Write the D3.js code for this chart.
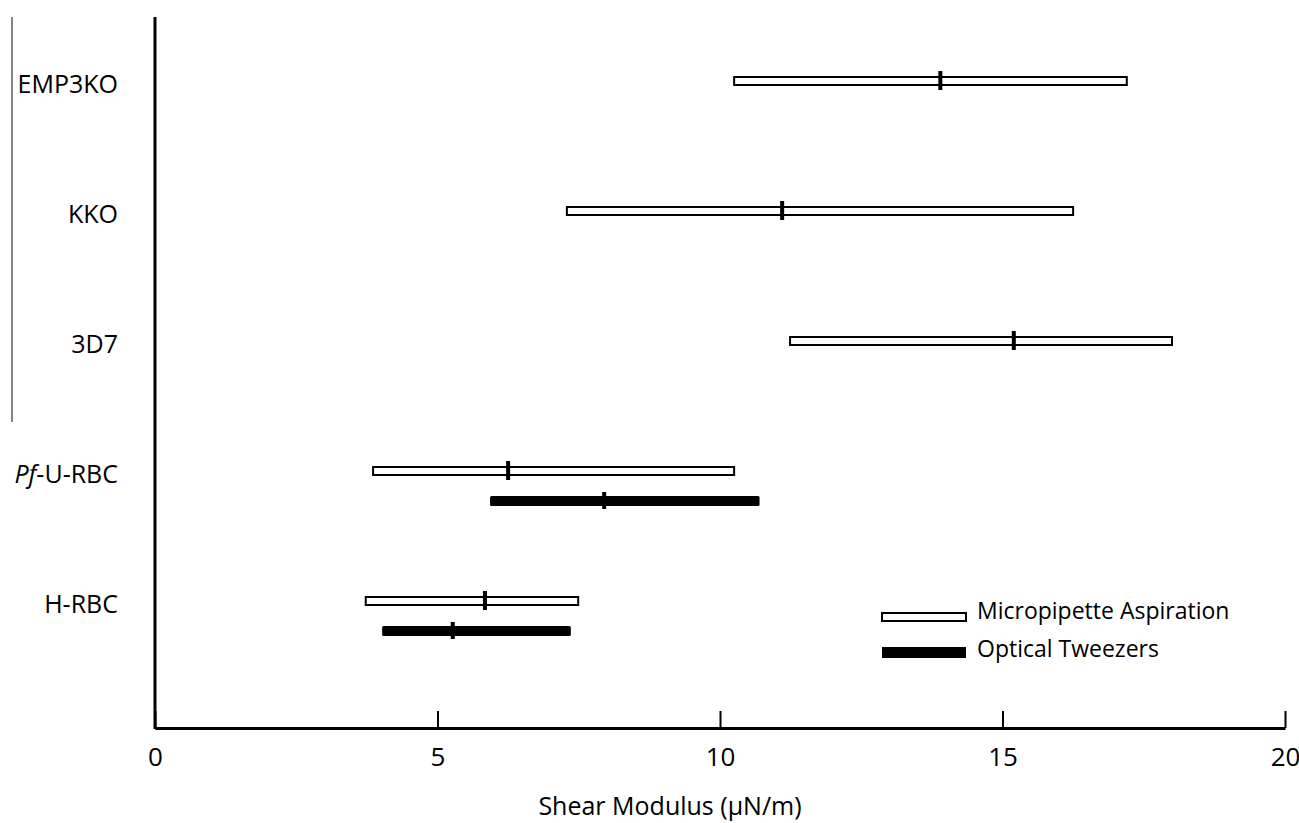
<!DOCTYPE html>
<html>
<head>
<meta charset="utf-8">
<script src="https://cdn.jsdelivr.net/npm/d3@7"></script>
<style>
  body { margin: 0; background: #fff; }
  svg text { font-family: "Open Sans", sans-serif; fill: #000; }
</style>
</head>
<body>
<svg id="chart" width="1299" height="823"></svg>
<script>
// data
const categories = ["EMP3KO", "KKO", "3D7", "Pf-U-RBC", "H-RBC"];
const maLow  = [10.25, 7.29, 11.24, 3.86, 3.73];
const maHigh = [17.2, 16.25, 18.0, 10.25, 7.49];
const maMean = [13.9, 11.1, 15.2, 6.25, 5.84];
const otCats = ["Pf-U-RBC", "H-RBC"];
const otLow  = [5.93, 4.02];
const otHigh = [10.7, 7.36];
const otMean = [7.95, 5.27];
const xTicks = [0, 5, 10, 15, 20];
const legendLabels = ["Micropipette Aspiration", "Optical Tweezers"];

const svg = d3.select("#chart");

const x = d3.scaleLinear().domain([0, 20]).range([155, 1285]);
const y = d3.scalePoint().domain(categories).range([81, 601]);

const maRows = categories.map((c, i) => ({ cat: c, lo: maLow[i], hi: maHigh[i], mean: maMean[i] }));
const otRows = otCats.map((c, i) => ({ cat: c, lo: otLow[i], hi: otHigh[i], mean: otMean[i] }));
const otOffset = 30;

// thin bracket line on the far left
svg.append("line")
  .attr("x1", 12).attr("x2", 12)
  .attr("y1", 17).attr("y2", 422)
  .attr("stroke", "#333").attr("stroke-width", 1.2);

// y axis line
svg.append("line")
  .attr("x1", x(0)).attr("x2", x(0))
  .attr("y1", 17).attr("y2", 729)
  .attr("stroke", "#000").attr("stroke-width", 3);

// x axis, ticks pointing up
const xAxis = svg.append("g")
  .attr("transform", "translate(0,728)")
  .call(d3.axisBottom(x).tickValues(xTicks).tickSizeInner(-17).tickSizeOuter(0));
xAxis.select(".domain").attr("stroke", "#000").attr("stroke-width", 3);
xAxis.selectAll(".tick line").attr("stroke", "#000").attr("stroke-width", 2);
xAxis.selectAll(".tick text")
  .style("font-family", "Open Sans")
  .style("font-size", "26px")
  .attr("y", 20);

svg.append("text")
  .attr("x", 670).attr("y", 815)
  .attr("text-anchor", "middle")
  .style("font-size", "25px")
  .text("Shear Modulus (\u00B5N/m)");

// category labels
const labels = svg.selectAll(".cat")
  .data(categories)
  .join("text")
  .attr("class", "cat")
  .attr("x", 118)
  .attr("y", d => y(d) + 3)
  .attr("dy", "0.35em")
  .attr("text-anchor", "end")
  .style("font-size", "25px");
labels.each(function (d) {
  const t = d3.select(this);
  if (d.startsWith("Pf")) {
    t.append("tspan").style("font-style", "italic").text("Pf");
    t.append("tspan").text(d.slice(2));
  } else {
    t.text(d);
  }
});

// micropipette aspiration bars
svg.selectAll(".ma")
  .data(maRows)
  .join("rect")
  .attr("class", "ma")
  .attr("x", d => x(d.lo))
  .attr("y", d => y(d.cat) - 4)
  .attr("width", d => x(d.hi) - x(d.lo))
  .attr("height", 8)
  .attr("fill", "#fff")
  .attr("stroke", "#000")
  .attr("stroke-width", 2);

svg.selectAll(".maMean")
  .data(maRows)
  .join("line")
  .attr("class", "maMean")
  .attr("x1", d => x(d.mean)).attr("x2", d => x(d.mean))
  .attr("y1", d => y(d.cat) - 10).attr("y2", d => y(d.cat) + 9)
  .attr("stroke", "#000").attr("stroke-width", 4);

// optical tweezers bars
svg.selectAll(".ot")
  .data(otRows)
  .join("rect")
  .attr("class", "ot")
  .attr("x", d => x(d.lo))
  .attr("y", d => y(d.cat) + otOffset - 5)
  .attr("width", d => x(d.hi) - x(d.lo))
  .attr("height", 10)
  .attr("rx", 1.5)
  .attr("fill", "#000");

svg.selectAll(".otMean")
  .data(otRows)
  .join("line")
  .attr("class", "otMean")
  .attr("x1", d => x(d.mean)).attr("x2", d => x(d.mean))
  .attr("y1", d => y(d.cat) + otOffset - 9).attr("y2", d => y(d.cat) + otOffset + 8)
  .attr("stroke", "#000").attr("stroke-width", 4);

// legend
const legend = svg.append("g").attr("transform", "translate(882,0)");
legend.append("rect")
  .attr("x", 0).attr("y", 613).attr("width", 84).attr("height", 8)
  .attr("fill", "#fff").attr("stroke", "#000").attr("stroke-width", 2);
legend.append("rect")
  .attr("x", 0).attr("y", 647).attr("width", 84).attr("height", 11)
  .attr("fill", "#000");
legend.selectAll("text")
  .data(legendLabels)
  .join("text")
  .attr("x", 95)
  .attr("y", (d, i) => 611 + i * 38)
  .attr("dy", "0.35em")
  .style("font-size", "23px")
  .text(d => d);
</script>
</body>
</html>
